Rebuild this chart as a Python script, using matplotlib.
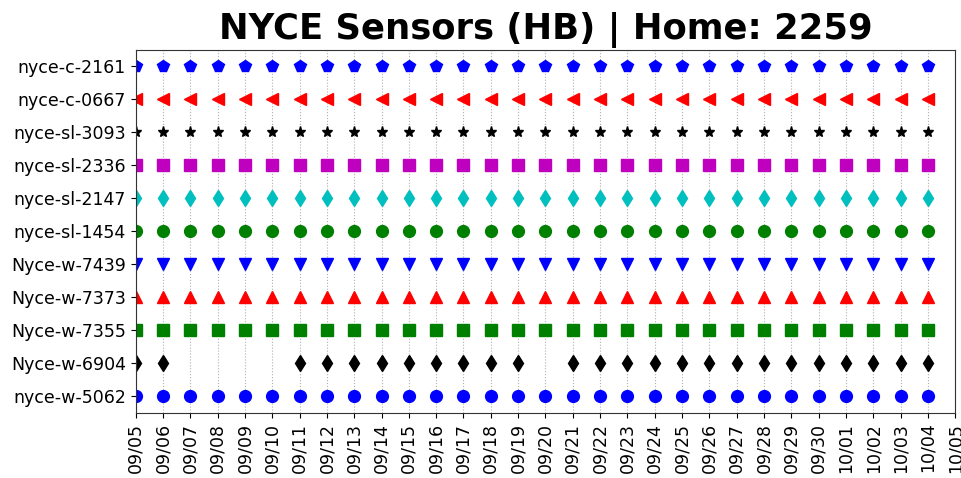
import numpy as np
import pandas as pd
import matplotlib
matplotlib.use("Agg")
import matplotlib.pyplot as plt
import matplotlib.dates as mdates

# sensors from bottom to top
sensors = ["nyce-w-5062", "Nyce-w-6904", "Nyce-w-7355", "Nyce-w-7373", "Nyce-w-7439",
           "nyce-sl-1454", "nyce-sl-2147", "nyce-sl-2336", "nyce-sl-3093",
           "nyce-c-0667", "nyce-c-2161"]
styles = ["bo", "kd", "gs", "r^", "bv", "go", "cd", "ms", "k*", "r<", "bp"]

day_labels = ["09/05", "09/06", "09/07", "09/08", "09/09", "09/10", "09/11", "09/12",
              "09/13", "09/14", "09/15", "09/16", "09/17", "09/18", "09/19", "09/20",
              "09/21", "09/22", "09/23", "09/24", "09/25", "09/26", "09/27", "09/28",
              "09/29", "09/30", "10/01", "10/02", "10/03", "10/04"]

full = [1] * 30
gap_6904 = [1, 1, 0, 0, 0, 0, 1, 1, 1, 1, 1, 1, 1, 1, 1, 0,
            1, 1, 1, 1, 1, 1, 1, 1, 1, 1, 1, 1, 1, 1]
presence = [full, gap_6904, full, full, full, full, full, full, full, full, full]

days = pd.to_datetime(["2016/" + d for d in day_labels])

fig, ax = plt.subplots(figsize=(9.62, 4.78), dpi=100)
for i, (name, st, pres) in enumerate(zip(sensors, styles, presence)):
    mask = np.array(pres, dtype=bool)
    ms = 8 if st[1] == "*" else 8.5
    ax.plot(days[mask], [i] * mask.sum(), st, ms=ms, linestyle="none")

ax.set_yticks(range(len(sensors)))
ax.set_yticklabels(sensors, fontsize=12.5)
ax.set_ylim(-0.5, len(sensors) - 0.5)

ax.set_xlim(pd.Timestamp("2016-09-05"), pd.Timestamp("2016-10-05"))
ax.xaxis.set_major_locator(mdates.DayLocator())
ax.xaxis.set_major_formatter(mdates.DateFormatter("%m/%d"))
plt.setp(ax.get_xticklabels(), rotation=90, fontsize=12.5)
ax.grid(axis="x", linestyle=":", color="#b0b0b0", linewidth=0.8)
ax.set_axisbelow(True)
for sp in ax.spines.values():
    sp.set_color("#333333")

ax.set_title("NYCE Sensors (HB) | Home: 2259", fontsize=25.5, fontweight="bold", pad=8)
fig.subplots_adjust(left=0.141, right=0.993, top=0.896, bottom=0.136)
fig.savefig("out.png", dpi=100)
